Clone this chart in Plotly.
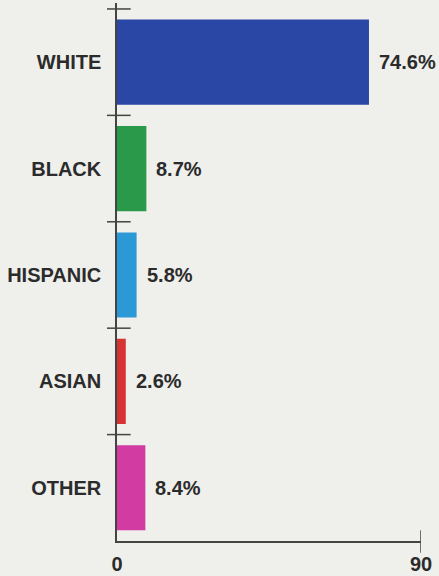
import plotly.graph_objects as go

categories = ["WHITE", "BLACK", "HISPANIC", "ASIAN", "OTHER"]
values = [74.6, 8.7, 5.8, 2.6, 8.4]
value_labels = ["74.6%", "8.7%", "5.8%", "2.6%", "8.4%"]
bar_colors = ["#2a47a6", "#2a9a4a", "#2a99d6", "#d63333", "#d23ba2"]
x_ticks = [0, 90]

BG = "#efefec"
INK = "#2b2b2b"
AXIS = "#444444"
FONT = "Liberation Sans, Arial, sans-serif"

fig = go.Figure()
fig.add_trace(go.Bar(
    x=values, y=categories, orientation="h",
    marker=dict(color=bar_colors, line=dict(width=0)),
    width=0.8, hoverinfo="skip",
))

for cat, v, lab in zip(categories, values, value_labels):
    fig.add_annotation(x=v, y=cat, xref="x", yref="y", text=lab,
                       showarrow=False, xanchor="left", xshift=8,
                       font=dict(family=FONT, size=20, color=INK, weight="bold"))

# boundary tick marks crossing the y axis
for b in [-0.5, 0.5, 1.5, 2.5, 3.5]:
    fig.add_shape(type="line", xref="paper", yref="y",
                  x0=-0.033, x1=0.045, y0=b, y1=b,
                  line=dict(color=AXIS, width=1.5))
# tick at 90 crossing x axis
fig.add_shape(type="line", xref="x", yref="paper", x0=90, x1=90,
              y0=-0.022, y1=0.02, line=dict(color=AXIS, width=1.5))

fig.update_layout(
    width=439, height=576,
    margin=dict(l=117, r=18, t=3, b=35, autoexpand=False),
    paper_bgcolor=BG, plot_bgcolor=BG,
    showlegend=False,
    xaxis=dict(range=[0, 90], tickvals=x_ticks, ticktext=[str(t) for t in x_ticks],
               showgrid=False, zeroline=False, showline=True, linecolor=AXIS,
               linewidth=1.5, ticks="", ticklabelstandoff=4, automargin=False,
               tickfont=dict(family=FONT, size=20, color=INK, weight="bold")),
    yaxis=dict(categoryorder="array", categoryarray=categories,
               range=[4.5, -0.556], showgrid=False, zeroline=False,
               showline=True, linecolor=AXIS, linewidth=1.5, ticks="",
               ticklabelstandoff=10, automargin=False,
               tickfont=dict(family=FONT, size=20, color=INK, weight="bold")),
)

fig.write_html("out.html", config={"displayModeBar": False},
               post_script="document.body.style.margin='0';document.body.style.background='%s';" % BG)
